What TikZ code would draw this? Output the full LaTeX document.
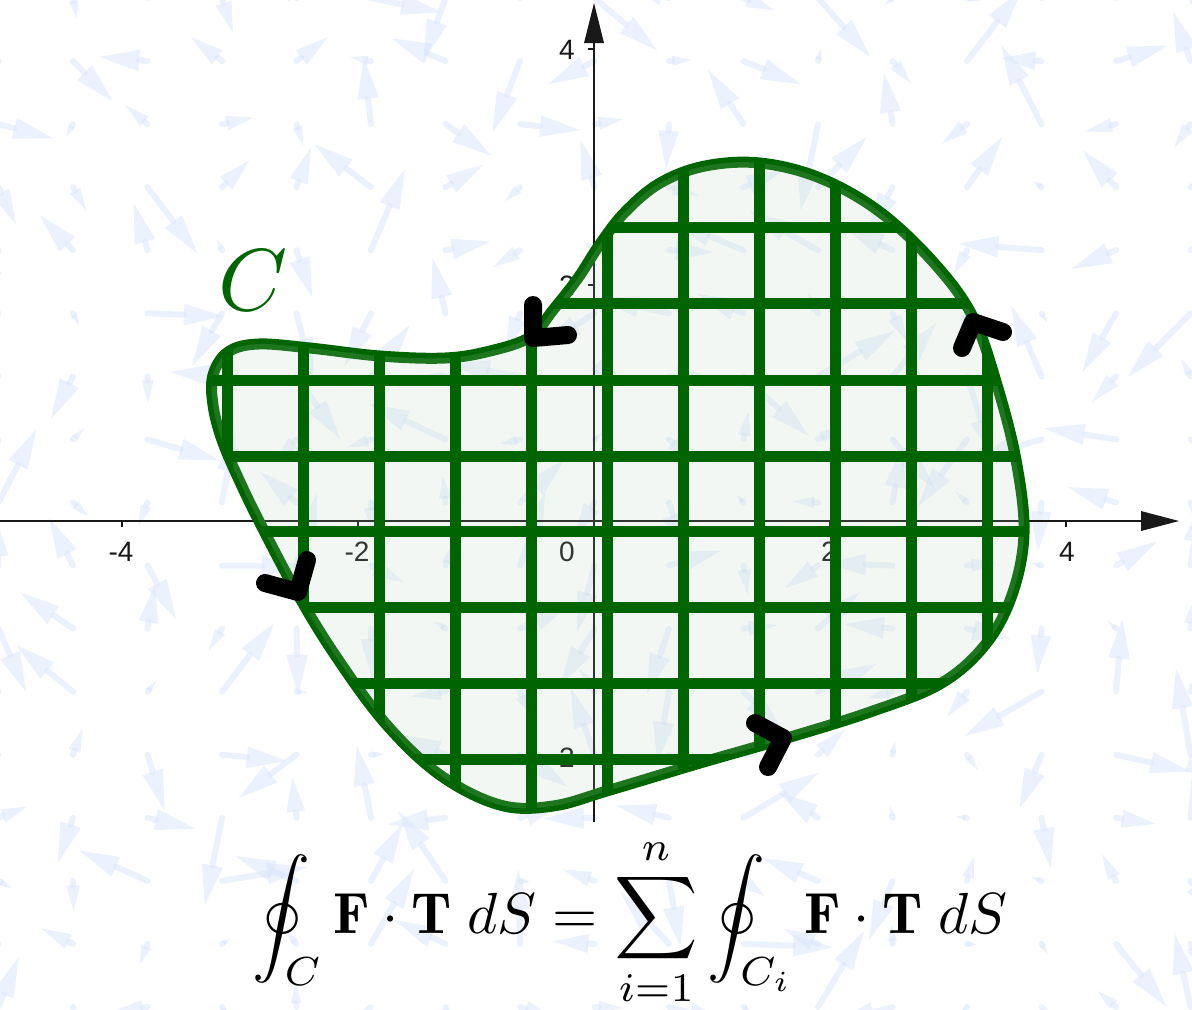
\documentclass[tikz,border=0pt]{standalone}
\usepackage{fontspec}
\newfontfamily\labelfont{Liberation Sans}
\usepackage{amsmath}
\definecolor{ggreen}{RGB}{0,100,0}
\definecolor{fieldblue}{RGB}{214,227,252}
\definecolor{regionfill}{RGB}{181,211,186}
\definecolor{axiscol}{RGB}{25,25,25}
\tikzset{
  fieldshaft/.style={draw=fieldblue, line width=3pt, line cap=round, opacity=0.45},
  fieldhead/.style={fill=fieldblue, opacity=0.45},
  axisline/.style={draw=axiscol, line width=1pt},
  ticklabel/.style={text=axiscol, font=\labelfont\fontsize{14}{16}\selectfont, inner sep=0pt},
  gridline/.style={draw=ggreen, line width=5.5pt},
  boundary/.style={draw=ggreen, line width=5.5pt},
  chevron/.style={draw=black, line width=9pt, line cap=round, line join=round},
}
\newcommand\regionpath{plot[smooth cycle, tension=0.6] coordinates {
(578,278) (553,310) (530,337) (490,351) (445,358) (380,356) (310,348) (258,344)
(228,352) (213,375) (213,405) (222,440) (240,482) (262,527) (297,593) (335,655)
(385,723) (440,775) (500,805) (553,806) (610,790) (700,763) (787,738) (870,712)
(940,684) (985,645) (1012,595) (1024,533) (1016,460) (997,385) (973,317) (935,264)
(880,212) (820,178) (760,163) (705,166) (660,183) (625,212) (600,244)}}
\begin{document}
\begin{tikzpicture}[x=0.5pt,y=-0.5pt]
\useasboundingbox (0,0) rectangle (1192,1009);
\fill[white] (0,0) rectangle (1192,1009);
% background vector field
\pgfmathsetseed{11}
\foreach \i in {0,...,16}{
  \foreach \j in {0,...,16}{
    \pgfmathsetmacro\ang{rnd*360}
    \pgfmathsetmacro\len{10+rnd*80}
    \pgfmathsetmacro\hl{min(40,0.85*\len)}
    \pgfmathsetmacro\hw{0.27*\hl}
    \pgfmathsetmacro\tx{\i*74.5-1.5}
    \pgfmathsetmacro\ty{\j*63.06-2}
    \pgfmathsetmacro\ca{cos(\ang)}
    \pgfmathsetmacro\sa{sin(\ang)}
    \pgfmathsetmacro\bx{\tx+(\len-\hl)*\ca}
    \pgfmathsetmacro\by{\ty+(\len-\hl)*\sa}
    \pgfmathsetmacro\px{\tx+\len*\ca}
    \pgfmathsetmacro\py{\ty+\len*\sa}
    \pgfmathsetmacro\lx{\bx-\hw*\sa}
    \pgfmathsetmacro\ly{\by+\hw*\ca}
    \pgfmathsetmacro\rx{\bx+\hw*\sa}
    \pgfmathsetmacro\ry{\by-\hw*\ca}
    \draw[fieldshaft] (\tx,\ty) -- (\bx,\by);
    \fill[fieldhead] (\px,\py) -- (\lx,\ly) -- (\rx,\ry) -- cycle;
  }
}
% axes
\coordinate (xstart) at (0,521);
\coordinate (xend) at (1145,521);
\coordinate (ystart) at (594,822);
\coordinate (yend) at (594,40);
\draw[axisline] (xstart) -- (xend);
\draw[axisline] (ystart) -- (yend);
\fill[axiscol] (1179,521) -- (1141,511) -- (1141,531) -- cycle;
\fill[axiscol] (594,3) -- (584,43) -- (604,43) -- cycle;
\foreach \x in {122,358,830,1066} \draw[axisline] (\x,521) -- (\x,527);
\foreach \y in {49,285,757} \draw[axisline] (588,\y) -- (594,\y);
\node[ticklabel] (lxm4) at (121,552) {-4};
\node[ticklabel] (lxm2) at (357,552) {-2};
\node[ticklabel] (lx2) at (829,552) {2};
\node[ticklabel] (lx4) at (1067,552) {4};
\node[ticklabel, anchor=east] (l0) at (575,552) {0};
\node[ticklabel, anchor=east] (ly4) at (575,50) {4};
\node[ticklabel, anchor=east] (ly2) at (575,286) {2};
\node[ticklabel, anchor=east] (lym2) at (575,758) {-2};
% region
\draw[boundary] \regionpath;
\fill[regionfill, fill opacity=0.16] \regionpath;
\begin{scope}
  \clip \regionpath;
  \foreach \x in {227,303,379,455,531,607,683,759,835,911,987}
    \draw[gridline] (\x,140) -- (\x,830);
  \foreach \y in {227,303,380,456,531,607,683,759}
    \draw[gridline] (190,\y) -- (1040,\y);
\end{scope}
% orientation chevrons
\draw[chevron] (533,305) -- (533,338) -- (568,335);
\draw[chevron] (307,560) -- (298,592) -- (265,583);
\draw[chevron] (755,723) -- (783,738) -- (768,767);
\draw[chevron] (1003,332) -- (973,322) -- (962,348);
% labels
\node[text=ggreen, scale=4.4, inner sep=0pt] (clabel) at (253,280) {$C$};
\node[scale=2.9, anchor=base, inner sep=0pt] (eq) at (630,933)
  {$\displaystyle \oint_C \mathbf{F}\cdot\mathbf{T}\;dS = \sum_{i=1}^{n}\oint_{C_i}\mathbf{F}\cdot\mathbf{T}\;dS$};
\end{tikzpicture}
\end{document}
